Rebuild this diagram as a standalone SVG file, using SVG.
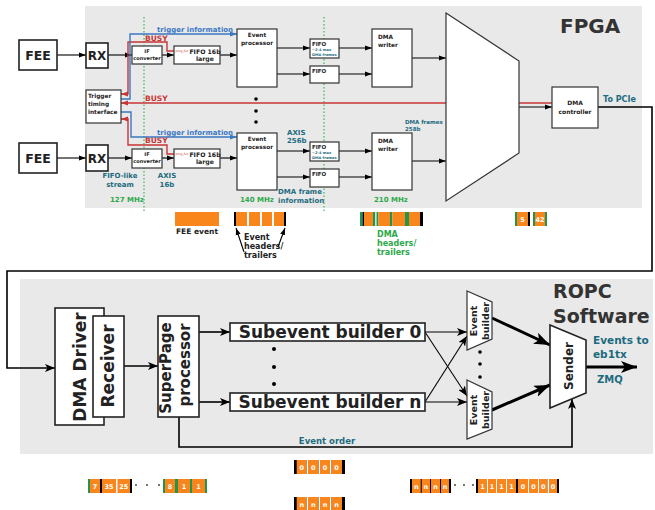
<svg xmlns="http://www.w3.org/2000/svg" width="655" height="510" viewBox="0 0 655 510">
<style>
text{font-family:"DejaVu Sans","Liberation Sans",sans-serif;font-weight:bold;fill:#222}
.bx{fill:#fff;stroke:#333;stroke-width:1.2}
.bx2{fill:#fff;stroke:#222;stroke-width:1.6}
.ln{fill:none;stroke:#000;stroke-width:1.1}
.lt{fill:none;stroke:#000;stroke-width:1.6}
.lth{fill:none;stroke:#000;stroke-width:3}
.rd{fill:none;stroke:#c73535;stroke-width:1.4}
.bl{fill:none;stroke:#3a78c4;stroke-width:1.4}
.dt{stroke:#33bb55;stroke-width:1.2;stroke-dasharray:1.5,2}
.tl{fill:#1d6b7f}
.gn{fill:#2da84a}
.rt{fill:#c73535}
.bt{fill:#3a78c4}
.o{fill:#f8861c}
.g{fill:#1e9650}
.k{fill:#000}
.w{fill:#fff;font-size:6.5px;text-anchor:middle}
.c{text-anchor:middle}
</style>
<defs>
<marker id="ak" markerUnits="userSpaceOnUse" markerWidth="7" markerHeight="6" refX="7" refY="3" orient="auto"><path d="M0,0.5 L7,3 L0,5.5 z" fill="#000"/></marker>
<marker id="ar" markerUnits="userSpaceOnUse" markerWidth="7" markerHeight="6" refX="7" refY="3" orient="auto"><path d="M0,0.5 L7,3 L0,5.5 z" fill="#c73535"/></marker>
<marker id="ab" markerUnits="userSpaceOnUse" markerWidth="7" markerHeight="6" refX="7" refY="3" orient="auto"><path d="M0,0.5 L7,3 L0,5.5 z" fill="#3a78c4"/></marker>
<marker id="am" markerUnits="userSpaceOnUse" markerWidth="10" markerHeight="8" refX="10" refY="4" orient="auto"><path d="M0,0 L10,4 L0,8 L2.5,4 z" fill="#000"/></marker>
<marker id="al" markerUnits="userSpaceOnUse" markerWidth="16" markerHeight="12" refX="16" refY="6" orient="auto"><path d="M0,0 L16,6 L0,12 L4,6 z" fill="#000"/></marker>
</defs>

<!-- panels -->
<rect x="85" y="6" width="557" height="202" fill="#e9e9e9"/>
<rect x="20" y="279" width="633" height="175" fill="#e9e9e9"/>
<line class="dt" x1="144" y1="17" x2="144" y2="211"/>
<line class="dt" x1="324" y1="17" x2="324" y2="211"/>
<text x="560" y="33" font-size="20" style="fill:#333">FPGA</text>
<text x="553" y="298" font-size="19" style="fill:#333">ROPC</text>
<text x="553" y="323" font-size="19" style="fill:#333">Software</text>

<g id="connectors">
<path class="ln" d="M57,55 H86" marker-end="url(#ak)"/>
<path class="ln" d="M108,55 H132" marker-end="url(#ak)"/>
<path class="ln" d="M162,55 H174" marker-end="url(#ak)"/>
<path class="ln" d="M220,55 H237" marker-end="url(#ak)"/>
<path class="ln" d="M277,48 H310" marker-end="url(#ak)"/>
<path class="ln" d="M277,74 H310" marker-end="url(#ak)"/>
<path class="ln" d="M339,48 H372" marker-end="url(#ak)"/>
<path class="ln" d="M339,74 H372" marker-end="url(#ak)"/>
<path class="ln" d="M412,58 H446" marker-end="url(#ak)"/>
<path class="ln" d="M57,158 H86" marker-end="url(#ak)"/>
<path class="ln" d="M108,158 H132" marker-end="url(#ak)"/>
<path class="ln" d="M162,158 H174" marker-end="url(#ak)"/>
<path class="ln" d="M220,158 H237" marker-end="url(#ak)"/>
<path class="ln" d="M277,151 H310" marker-end="url(#ak)"/>
<path class="ln" d="M277,177 H310" marker-end="url(#ak)"/>
<path class="ln" d="M339,151 H372" marker-end="url(#ak)"/>
<path class="ln" d="M339,177 H372" marker-end="url(#ak)"/>
<path class="ln" d="M412,161 H446" marker-end="url(#ak)"/>
<path class="ln" d="M519,107 H552" marker-end="url(#ak)"/>
<path class="rd" d="M552,103 H121" marker-end="url(#ar)"/>
<path class="rd" d="M174,51 H167 V42 H128 V94 H121" marker-end="url(#ar)"/>
<path class="bl" d="M121,99 H130 V34 H237" marker-end="url(#ab)"/>
<path class="rd" d="M174,154 H167 V145 H128 V119 H121" marker-end="url(#ar)"/>
<path class="bl" d="M121,112 H131 V137 H237" marker-end="url(#ab)"/>
<path class="lt" d="M598,107 H652 V271 H7 V368 H55" marker-end="url(#am)"/>
<path class="lt" d="M124,366 H158" marker-end="url(#am)"/>
<path class="lt" d="M199,332 H230" marker-end="url(#am)"/>
<path class="lt" d="M199,402 H230" marker-end="url(#am)"/>
<path class="ln" d="M425,332 H467" marker-end="url(#am)"/>
<path class="ln" d="M425,332 L467,396" marker-end="url(#am)"/>
<path class="ln" d="M425,402 H467" marker-end="url(#am)"/>
<path class="ln" d="M425,402 L467,336" marker-end="url(#am)"/>
<path class="lth" d="M492,318 L550,345" marker-end="url(#al)"/>
<path class="lth" d="M492,410 L550,385" marker-end="url(#al)"/>
<path class="lth" d="M586,367 H637" marker-end="url(#al)"/>
<path class="lt" d="M179,417 V447 H572 V399" marker-end="url(#am)"/>
<path class="ln" d="M244,252 L236,228" marker-end="url(#ak)"/>
<path class="ln" d="M278,247 L285,228" marker-end="url(#ak)"/>
</g>

<!-- connector labels -->
<text x="157" y="32" font-size="7" class="bt">trigger information</text>
<text x="145" y="40.5" font-size="7.5" class="rt">BUSY</text>
<text x="145" y="101" font-size="7.5" class="rt">BUSY</text>
<text x="157" y="135" font-size="7" class="bt">trigger information</text>
<text x="145" y="143" font-size="7.5" class="rt">BUSY</text>
<text x="120" y="178" font-size="7" class="tl c">FIFO-like</text>
<text x="120" y="187" font-size="7" class="tl c">stream</text>
<text x="167" y="178" font-size="7" class="tl c">AXIS</text>
<text x="167" y="187" font-size="7" class="tl c">16b</text>
<text x="110" y="202" font-size="7" class="gn">127 MHz</text>
<text x="240" y="202" font-size="7" class="gn">140 MHz</text>
<text x="374" y="202" font-size="7" class="gn">210 MHz</text>
<text x="287" y="135" font-size="7" class="tl">AXIS</text>
<text x="287" y="143" font-size="7" class="tl">256b</text>
<text x="278" y="194" font-size="7" class="tl">DMA frame</text>
<text x="278" y="203" font-size="7" class="tl">information</text>
<text x="405" y="124" font-size="5.5" class="tl">DMA frames</text>
<text x="405" y="131" font-size="5.5" class="tl">258b</text>
<text x="603" y="102" font-size="8" class="tl">To PCIe</text>
<text x="593" y="344" font-size="10.5" class="tl">Events to</text>
<text x="593" y="358" font-size="10.5" class="tl">eb1tx</text>
<text x="597" y="383" font-size="10" class="tl">ZMQ</text>
<text x="327" y="444" font-size="8.5" class="tl c">Event order</text>

<!-- FPGA nodes -->
<g id="fee0"><rect class="bx2" x="19" y="40" width="38" height="30"/><text x="38" y="60" font-size="12.5" class="c">FEE</text></g>
<g id="rx0"><rect class="bx2" x="86" y="43" width="22" height="25"/><text x="97" y="60" font-size="12" class="c">RX</text></g>
<g id="fee1"><rect class="bx2" x="19" y="143" width="38" height="30"/><text x="38" y="163" font-size="12.5" class="c">FEE</text></g>
<g id="rx1"><rect class="bx2" x="86" y="145" width="22" height="26"/><text x="97" y="163" font-size="12" class="c">RX</text></g>
<g id="trigger"><rect class="bx" x="86" y="90" width="35" height="33"/><text x="88" y="98" font-size="5.8">Trigger</text><text x="88" y="106" font-size="5.8">timing</text><text x="88" y="114" font-size="5.8">interface</text></g>
<g id="ifc0"><rect class="bx" x="132" y="46" width="30" height="18"/><text x="147" y="53" font-size="5" class="c">IF</text><text x="147" y="60" font-size="5" class="c">converter</text></g>
<g id="ifc1"><rect class="bx" x="132" y="149" width="30" height="19"/><text x="147" y="156" font-size="5" class="c">IF</text><text x="147" y="163" font-size="5" class="c">converter</text></g>
<g id="fifo16_0"><rect class="bx" x="174" y="46" width="46" height="18"/><text x="175.5" y="52" font-size="3" class="rt" style="font-weight:normal">prog_full</text><text x="205" y="53.5" font-size="6.2" class="c">FIFO 16b</text><text x="205" y="61" font-size="6.2" class="c">large</text></g>
<g id="fifo16_1"><rect class="bx" x="174" y="149" width="46" height="19"/><text x="175.5" y="155" font-size="3" class="rt" style="font-weight:normal">prog_full</text><text x="205" y="156.5" font-size="6.2" class="c">FIFO 16b</text><text x="205" y="164" font-size="6.2" class="c">large</text></g>
<g id="evproc0"><rect class="bx" x="237" y="29" width="40" height="58"/><text x="257" y="37" font-size="5.8" class="c">Event</text><text x="257" y="45" font-size="5.8" class="c">processor</text></g>
<g id="evproc1"><rect class="bx" x="237" y="133" width="40" height="57"/><text x="257" y="141" font-size="5.8" class="c">Event</text><text x="257" y="149" font-size="5.8" class="c">processor</text></g>
<g id="dots_fpga"><circle cx="256" cy="99" r="1.8"/><circle cx="256" cy="111" r="1.8"/><circle cx="256" cy="122" r="1.8"/></g>
<g id="fifoA0"><rect class="bx" x="310" y="39" width="29" height="19"/><text x="312" y="45.5" font-size="5.5">FIFO</text><text x="312" y="51" font-size="3.6" class="tl">~2-4 max</text><text x="312" y="56" font-size="3.6" class="tl">DMA frames</text></g>
<g id="fifoB0"><rect class="bx" x="310" y="66" width="29" height="17"/><text x="312" y="72.5" font-size="5.5">FIFO</text></g>
<g id="fifoA1"><rect class="bx" x="310" y="142" width="29" height="19"/><text x="312" y="148.5" font-size="5.5">FIFO</text><text x="312" y="154" font-size="3.6" class="tl">~2-4 max</text><text x="312" y="159" font-size="3.6" class="tl">DMA frames</text></g>
<g id="fifoB1"><rect class="bx" x="310" y="169" width="29" height="18"/><text x="312" y="175.5" font-size="5.5">FIFO</text></g>
<g id="dmaw0"><rect class="bx" x="372" y="29" width="40" height="58"/><text x="378" y="39" font-size="5.8">DMA</text><text x="378" y="47" font-size="5.8">writer</text></g>
<g id="dmaw1"><rect class="bx" x="372" y="133" width="40" height="57"/><text x="378" y="143" font-size="5.8">DMA</text><text x="378" y="151" font-size="5.8">writer</text></g>
<g id="mux"><polygon class="bx" points="446,13 519,61 519,153 446,201"/></g>
<g id="dmactrl"><rect class="bx" x="552" y="87" width="46" height="41"/><text x="575" y="105" font-size="6" class="c">DMA</text><text x="575" y="114" font-size="6" class="c">controller</text></g>

<!-- FPGA data bars -->
<g id="bar_fee"><rect class="o" x="175" y="212" width="44" height="14"/><text x="176" y="234" font-size="7.5">FEE event</text></g>
<g id="bar_event">
<rect class="k" x="234" y="212" width="52" height="14"/>
<rect class="o" x="236" y="212" width="11" height="14"/><rect class="o" x="249" y="212" width="11" height="14"/><rect class="o" x="262" y="212" width="10" height="14"/><rect class="o" x="274" y="212" width="10" height="14"/>
<rect fill="#fff" x="247" y="212" width="2" height="14"/><rect fill="#fff" x="260" y="212" width="2" height="14"/><rect fill="#fff" x="272" y="212" width="2" height="14"/>
<text x="244" y="240" font-size="8">Event</text><text x="244" y="249" font-size="8">headers/</text><text x="244" y="258" font-size="8">trailers</text>
</g>
<g id="bar_dma">
<rect class="g" x="360" y="212" width="2.5" height="14"/><rect class="k" x="362.5" y="212" width="1.5" height="14"/><rect class="o" x="364" y="212" width="9" height="14"/><rect class="g" x="373" y="212" width="2.5" height="14"/><rect fill="#fff" x="375.5" y="212" width="1" height="14"/><rect class="g" x="376.5" y="212" width="1.8" height="14"/><rect class="o" x="378.3" y="212" width="11.7" height="14"/><rect class="g" x="390" y="212" width="2.3" height="14"/><rect class="o" x="392.3" y="212" width="12.7" height="14"/><rect class="g" x="405" y="212" width="4" height="14"/><rect class="o" x="409" y="212" width="11" height="14"/><rect class="k" x="420" y="212" width="3" height="14"/>
<text x="377" y="237" font-size="8" class="gn">DMA</text><text x="377" y="246" font-size="8" class="gn">headers/</text><text x="377" y="255" font-size="8" class="gn">trailers</text>
</g>
<g id="bar_542">
<rect class="g" x="515" y="212" width="2" height="14"/><rect class="o" x="517" y="212" width="11" height="14"/><rect class="k" x="528" y="212" width="2" height="14"/><text x="522.5" y="222" class="w">5</text>
<rect class="g" x="533" y="212" width="2" height="14"/><rect class="o" x="535" y="212" width="10" height="14"/><rect class="g" x="545" y="212" width="2" height="14"/><text x="540" y="222" class="w">42</text>
</g>

<!-- ROPC nodes -->
<g id="dmadriver"><rect class="bx2" x="55" y="308" width="49" height="117"/><text transform="translate(86,367) rotate(-90)" font-size="17" class="c">DMA Driver</text></g>
<g id="receiver"><rect class="bx2" x="93" y="316" width="31" height="101"/><text transform="translate(114,366) rotate(-90)" font-size="17" class="c">Receiver</text></g>
<g id="superpage"><rect class="bx2" x="158" y="316" width="41" height="101"/><text transform="translate(171,368) rotate(-90)" font-size="15" class="c">SuperPage</text><text transform="translate(190,365) rotate(-90)" font-size="15" class="c">processor</text></g>
<g id="sb0"><rect class="bx2" x="230" y="323" width="195" height="18"/><text x="330" y="338" font-size="17" class="c">Subevent builder 0</text></g>
<g id="sbn"><rect class="bx2" x="230" y="393" width="195" height="18"/><text x="330" y="408" font-size="17" class="c">Subevent builder n</text></g>
<g id="dots_sb"><circle cx="274" cy="349" r="2"/><circle cx="274" cy="367" r="2"/><circle cx="274" cy="384" r="2"/></g>
<g id="eb0"><polygon class="bx" points="467,291 492,302 492,339 467,350"/><text transform="translate(477,321) rotate(-90)" font-size="9.5" class="c">Event</text><text transform="translate(489,321) rotate(-90)" font-size="9.5" class="c">builder</text></g>
<g id="ebn"><polygon class="bx" points="467,380 492,392 492,429 467,439"/><text transform="translate(477,410) rotate(-90)" font-size="9.5" class="c">Event</text><text transform="translate(489,410) rotate(-90)" font-size="9.5" class="c">builder</text></g>
<g id="dots_eb"><circle cx="480" cy="352" r="1.8"/><circle cx="480" cy="364" r="1.8"/><circle cx="480" cy="377" r="1.8"/></g>
<g id="sender"><polygon class="bx2" points="550,325 586,340 586,393 550,408"/><text transform="translate(573,366) rotate(-90)" font-size="12" class="c">Sender</text></g>

<!-- bottom data rows -->
<g id="row1">
<rect class="k" x="294" y="460" width="51" height="14"/>
<rect class="o" x="296.7" y="460" width="10" height="14"/><rect class="o" x="308" y="460" width="10.7" height="14"/><rect class="o" x="320" y="460" width="10" height="14"/><rect class="o" x="331.3" y="460" width="10.7" height="14"/>
<rect fill="#fff" x="306.7" y="460" width="1.3" height="14"/><rect fill="#fff" x="318.7" y="460" width="1.3" height="14"/><rect fill="#fff" x="330" y="460" width="1.3" height="14"/>
<text x="301.7" y="470" class="w">0</text><text x="313.3" y="470" class="w">0</text><text x="325" y="470" class="w">0</text><text x="336.6" y="470" class="w">0</text>
</g>
<g id="row2a">
<rect class="g" x="88" y="479" width="2" height="14"/><rect class="o" x="90" y="479" width="10" height="14"/><rect class="k" x="100" y="479" width="2" height="14"/>
<rect class="o" x="102" y="479" width="14" height="14"/><rect class="o" x="117.5" y="479" width="12.5" height="14"/><rect class="k" x="130" y="479" width="2" height="14"/>
<text x="95" y="489" class="w">7</text><text x="109" y="489" class="w">35</text><text x="123.7" y="489" class="w">25</text>
<circle cx="136" cy="485" r="0.9" fill="#333"/><circle cx="147" cy="485" r="0.9" fill="#333"/><circle cx="159" cy="485" r="0.9" fill="#333"/>
<rect class="g" x="163" y="479" width="2" height="14"/><rect class="o" x="165" y="479" width="10" height="14"/><rect class="g" x="175" y="479" width="3" height="14"/><rect class="o" x="178" y="479" width="12" height="14"/><rect class="g" x="190" y="479" width="2" height="14"/><rect class="o" x="192" y="479" width="13" height="14"/><rect class="g" x="205" y="479" width="2" height="14"/>
<text x="170" y="489" class="w">8</text><text x="184" y="489" class="w">1</text><text x="198.5" y="489" class="w">1</text>
</g>
<g id="row2b">
<rect class="k" x="410" y="479" width="41" height="14"/>
<rect class="o" x="412" y="479" width="8.7" height="14"/><rect class="o" x="421.7" y="479" width="8.3" height="14"/><rect class="o" x="431" y="479" width="9" height="14"/><rect class="o" x="441" y="479" width="8" height="14"/>
<text x="416.3" y="489" class="w">n</text><text x="425.8" y="489" class="w">n</text><text x="435.5" y="489" class="w">n</text><text x="445" y="489" class="w">n</text>
<circle cx="455" cy="485" r="0.9" fill="#333"/><circle cx="464" cy="485" r="0.9" fill="#333"/><circle cx="473" cy="485" r="0.9" fill="#333"/>
<rect class="k" x="476" y="479" width="83" height="14"/>
<rect class="o" x="478" y="479" width="9" height="14"/><rect class="o" x="488" y="479" width="8" height="14"/><rect class="o" x="497" y="479" width="9" height="14"/><rect class="o" x="507" y="479" width="9" height="14"/>
<rect class="o" x="518" y="479" width="10" height="14"/><rect class="o" x="529" y="479" width="9" height="14"/><rect class="o" x="539" y="479" width="8.5" height="14"/><rect class="o" x="549" y="479" width="8" height="14"/>
<rect fill="#fff" x="487" y="479" width="1" height="14"/><rect fill="#fff" x="496" y="479" width="1" height="14"/><rect fill="#fff" x="506" y="479" width="1" height="14"/><rect fill="#fff" x="528" y="479" width="1" height="14"/><rect fill="#fff" x="538" y="479" width="1" height="14"/><rect fill="#fff" x="547.5" y="479" width="1.5" height="14"/>
<text x="482.5" y="489" class="w">1</text><text x="492" y="489" class="w">1</text><text x="501.5" y="489" class="w">1</text><text x="511.5" y="489" class="w">1</text>
<text x="523" y="489" class="w">0</text><text x="533.5" y="489" class="w">0</text><text x="543.2" y="489" class="w">0</text><text x="553" y="489" class="w">0</text>
</g>
<g id="row3">
<rect class="k" x="294" y="497" width="51" height="13"/>
<rect class="o" x="296.7" y="497" width="10" height="13"/><rect class="o" x="308" y="497" width="10.7" height="13"/><rect class="o" x="320" y="497" width="10" height="13"/><rect class="o" x="331.3" y="497" width="10.7" height="13"/>
<rect fill="#fff" x="306.7" y="497" width="1.3" height="13"/><rect fill="#fff" x="318.7" y="497" width="1.3" height="13"/><rect fill="#fff" x="330" y="497" width="1.3" height="13"/>
<text x="301.7" y="507" class="w">n</text><text x="313.3" y="507" class="w">n</text><text x="325" y="507" class="w">n</text><text x="336.6" y="507" class="w">n</text>
</g>
</svg>
